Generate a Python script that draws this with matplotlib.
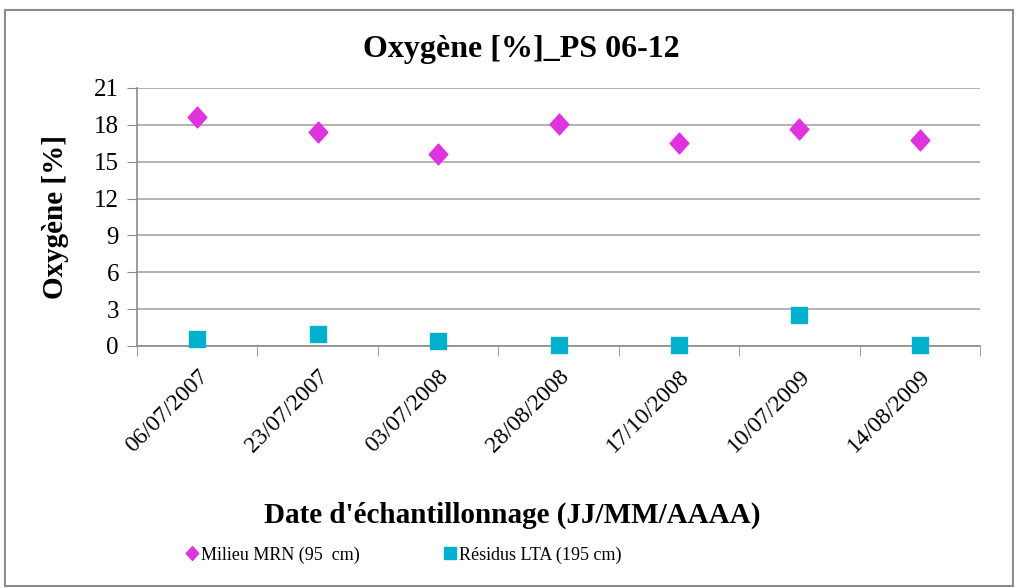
import numpy as np
import matplotlib.pyplot as plt
from matplotlib.lines import Line2D
from matplotlib.patches import Rectangle
from matplotlib.path import Path

dates = ['06/07/2007', '23/07/2007', '03/07/2008', '28/08/2008',
         '17/10/2008', '10/07/2009', '14/08/2009']
milieu = [18.6, 17.4, 15.65, 18.05, 16.55, 17.7, 16.75]
residus = [0.55, 0.95, 0.4, 0.1, 0.1, 2.5, 0.1]
yticks = [0, 3, 6, 9, 12, 15, 18, 21]

plt.rcParams['font.family'] = 'Liberation Serif'

# diamond slightly narrower than tall, like the Excel marker
losange = Path([(0, 1), (0.9, 0), (0, -1), (-0.9, 0), (0, 1)],
               [Path.MOVETO, Path.LINETO, Path.LINETO, Path.LINETO, Path.CLOSEPOLY])

fig = plt.figure(figsize=(10.18, 5.88), dpi=100)
fig.patches.append(Rectangle((0.005, 0.003), 0.99, 0.98, transform=fig.transFigure,
                             fill=False, edgecolor='#8c8c8c', linewidth=1.5))
ax = fig.add_axes([137 / 1018, 1 - 346 / 588, (980 - 137) / 1018, (346 - 88) / 588])

x = np.arange(len(dates))
ax.scatter(x, milieu, marker=losange, s=225, color='#e033e0', zorder=3, clip_on=False)
ax.scatter(x, residus, marker='s', s=132, color='#00b0cc', zorder=3, clip_on=False)

ax.set_xlim(-0.5, len(dates) - 0.5)
ax.set_ylim(0, 21)
ax.set_yticks(yticks)
ax.set_yticklabels([str(v) for v in yticks], fontsize=18)
ax.yaxis.grid(True, color='#a6a6a6', linewidth=1.2)
ax.set_axisbelow(True)

ax.set_xticks(x)
ax.set_xticklabels(dates, rotation=45, ha='right', va='top', rotation_mode='anchor', fontsize=17)
ax.set_xticks(np.arange(-0.5, len(dates)), minor=True)
ax.tick_params(axis='x', which='major', length=0, pad=14)
ax.tick_params(axis='x', which='minor', length=7, color='#8c8c8c')
ax.tick_params(axis='y', length=7, color='#8c8c8c', pad=6)

for s in ['top', 'right']:
    ax.spines[s].set_visible(False)
for s in ['left', 'bottom']:
    ax.spines[s].set_color('#8c8c8c')
    ax.spines[s].set_linewidth(1.2)

ax.set_ylabel('Oxygène [%]', fontsize=21, fontweight='bold', labelpad=18)
fig.text(0.512, 1 - 50 / 588, 'Oxygène [%]_PS 06-12', ha='center', va='center',
         fontsize=23, fontweight='bold')
fig.text(0.503, 1 - 515 / 588, "Date d'échantillonnage (JJ/MM/AAAA)", ha='center',
         va='center', fontsize=21, fontweight='bold')

handles = [Line2D([], [], marker=losange, linestyle='', color='#e033e0', markersize=10),
           Line2D([], [], marker='s', linestyle='', color='#00b0cc', markersize=9)]
fig.legend(handles, ['Milieu MRN (95  cm)', 'Résidus LTA (195 cm)'], loc='center',
           bbox_to_anchor=(0.395, 1 - 555 / 588), ncol=2, frameon=False, fontsize=13,
           handletextpad=0.0, columnspacing=4.5, handlelength=1)

fig.savefig('out.png', dpi=100)
